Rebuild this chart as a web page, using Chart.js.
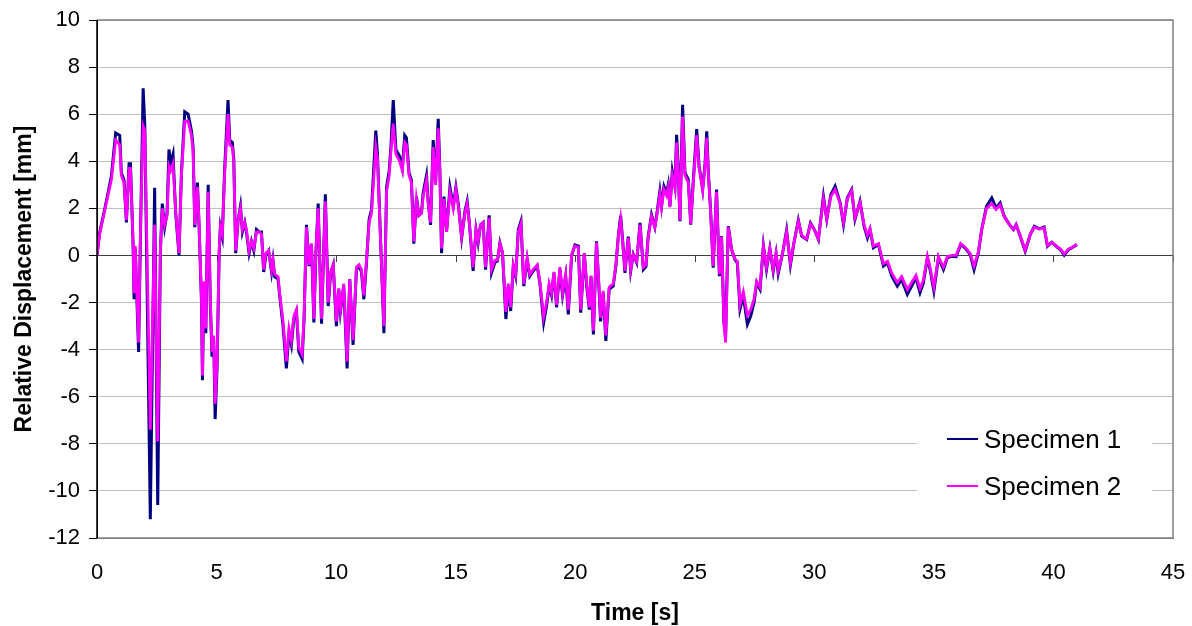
<!DOCTYPE html>
<html>
<head>
<meta charset="utf-8">
<script src="https://cdn.jsdelivr.net/npm/chart.js@4"></script>
<style>
  body { margin: 0; background: #fff; }
  canvas { display: block; }
</style>
</head>
<body>
<canvas id="disp-chart" width="1192" height="626"></canvas>
<script>
// time axis [s]
const timeS = [
  0, 0.11, 0.32, 0.6, 0.78, 0.95, 1.02, 1.13, 1.23, 1.34, 1.4, 1.51, 1.55, 1.6, 1.74, 1.82, 1.93, 2.0, 2.23, 2.41,
  2.54, 2.65, 2.73, 2.83, 2.93, 3.01, 3.08, 3.18, 3.29, 3.43, 3.53, 3.67, 3.81, 3.95, 4.02, 4.09, 4.2, 4.26, 4.37, 4.41,
  4.47, 4.55, 4.65, 4.74, 4.81, 4.88, 4.94, 5.02, 5.11, 5.16, 5.24, 5.34, 5.48, 5.55, 5.66, 5.72, 5.8, 5.9, 6.0, 6.08,
  6.18, 6.25, 6.36, 6.46, 6.56, 6.67, 6.78, 6.88, 6.97, 7.06, 7.18, 7.3, 7.36, 7.43, 7.57, 7.64, 7.78, 7.92, 8.03, 8.13,
  8.23, 8.34, 8.44, 8.58, 8.66, 8.76, 8.87, 8.97, 9.07, 9.15, 9.25, 9.39, 9.55, 9.67, 9.77, 9.88, 10.01, 10.11, 10.18, 10.32,
  10.46, 10.57, 10.71, 10.85, 10.96, 11.06, 11.16, 11.27, 11.38, 11.48, 11.66, 11.73, 11.83, 12.0, 12.11, 12.22, 12.29, 12.39, 12.5, 12.66,
  12.77, 12.87, 12.94, 13.05, 13.15, 13.25, 13.36, 13.46, 13.57, 13.64, 13.78, 13.85, 13.95, 14.06, 14.16, 14.27, 14.34, 14.41, 14.51, 14.62,
  14.76, 14.9, 15.01, 15.11, 15.25, 15.39, 15.48, 15.57, 15.73, 15.85, 15.94, 16.04, 16.15, 16.25, 16.4, 16.5, 16.64, 16.75, 16.85, 16.96,
  17.1, 17.2, 17.3, 17.41, 17.51, 17.62, 17.73, 17.85, 17.99, 18.1, 18.24, 18.41, 18.52, 18.68, 18.8, 18.91, 19.01, 19.11, 19.22, 19.36,
  19.47, 19.6, 19.71, 19.85, 19.99, 20.13, 20.23, 20.38, 20.48, 20.59, 20.66, 20.76, 20.89, 21.01, 21.06, 21.17, 21.28, 21.42, 21.59, 21.7,
  21.8, 21.9, 21.98, 22.08, 22.22, 22.32, 22.43, 22.57, 22.71, 22.85, 22.96, 23.05, 23.19, 23.33, 23.4, 23.54, 23.61, 23.71, 23.82, 23.89,
  23.96, 24.06, 24.17, 24.24, 24.31, 24.38, 24.49, 24.59, 24.73, 24.83, 24.94, 25.08, 25.18, 25.25, 25.33, 25.43, 25.5, 25.57, 25.66, 25.77,
  25.91, 26.03, 26.12, 26.22, 26.29, 26.4, 26.54, 26.68, 26.78, 26.89, 27.03, 27.2, 27.34, 27.48, 27.59, 27.73, 27.87, 28.0, 28.14, 28.28,
  28.4, 28.49, 28.67, 28.84, 29.0, 29.14, 29.33, 29.47, 29.68, 29.84, 30.0, 30.17, 30.38, 30.52, 30.69, 30.87, 31.08, 31.22, 31.38, 31.56,
  31.7, 31.91, 32.08, 32.22, 32.33, 32.47, 32.68, 32.89, 33.06, 33.24, 33.47, 33.65, 33.89, 34.07, 34.25, 34.42, 34.56, 34.73, 34.84, 35.0,
  35.19, 35.4, 35.56, 35.75, 35.93, 36.12, 36.3, 36.52, 36.68, 36.86, 37.0, 37.2, 37.42, 37.6, 37.77, 37.94, 38.16, 38.33, 38.44, 38.61,
  38.82, 39.03, 39.2, 39.41, 39.61, 39.75, 39.93, 40.14, 40.31, 40.45, 40.63, 40.81, 40.98
];

// Specimen 1 relative displacement [mm]
const specimen1 = [
  0, 0.96, 1.95, 3.36, 5.2, 5.1, 3.5, 3.2, 1.4, 3.9, 3.9, 0.4, -1.86, 0.3, -4.1, 1.0, 7.1, 5.5, -11.2, 2.87,
  -10.6, 0.1, 2.2, 1.2, 1.8, 4.5, 3.9, 4.3, 1.8, 0, 3.5, 6.1, 6.0, 5.3, 4.6, 1.2, 3.1, 1.5, -2.0, -5.3,
  -1.2, -3.3, 3.0, -2.1, -4.3, -3.6, -6.95, -4.8, 0.1, 1.2, 0.8, 3.7, 6.6, 4.9, 4.8, 4.1, 0.1, 1.5, 2.1, 1.0,
  1.4, 1.0, 0.1, 0.6, 0.2, 1.1, 1.0, 1.0, -0.7, 0, 0.2, -0.7, -0.2, -0.9, -1.0, -1.7, -3.0, -4.8, -3.3, -3.8,
  -2.7, -2.4, -4.1, -4.4, -2.7, 1.3, -0.45, 0.5, -2.85, 0, 2.2, -2.9, 2.6, -2.15, -0.75, -0.4, -3.0, -1.44, -2.4, -1.3,
  -4.8, -1.0, -3.8, -0.6, -0.45, -0.7, -1.86, -0.3, 1.53, 1.95, 5.3, 4.3, 1.5, -3.3, 2.9, 3.6, 4.6, 6.6, 4.5, 4.2,
  3.7, 5.1, 5.0, 3.5, 3.2, 0.5, 2.5, 1.7, 1.8, 2.65, 3.4, 2.3, 1.3, 4.9, 3.1, 5.8, 3.6, 0.1, 2.5, 1.0,
  2.9, 2.1, 2.9, 2.2, 0.75, 1.9, 2.3, 1.4, -0.66, 1.1, 0.53, 1.3, 1.4, -0.6, 1.7, -0.74, -0.3, -0.24, 0.53, 0.1,
  -2.7, -1.3, -2.36, -0.45, -0.88, 1.1, 1.45, -1.3, -0.17, -0.88, -0.66, -0.45, -1.16, -2.85, -2.15, -1.3, -1.7, -0.74, -2.2, -0.6,
  -1.7, -0.88, -2.5, 0, 0.45, 0.4, -2.43, 0.1, -1.3, -2.3, -0.9, -3.35, 0.6, -1.72, -2.8, -1.58, -3.63, -1.44, -1.3, -0.45,
  0.8, 1.69, 0.68, -0.74, 0.8, -0.66, 0.05, -0.3, 1.38, -0.6, -0.47, 0.8, 1.73, 1.2, 1.67, 2.73, 2.09, 2.94, 2.66, 3.01,
  2.09, 3.57, 2.94, 5.12, 3.64, 1.45, 6.4, 3.5, 3.22, 1.31, 3.22, 5.37, 3.78, 3.36, 2.82, 3.92, 5.27, 3.5, 1.95, -0.52,
  2.8, -0.88, 0.82, -2.85, -3.4, 1.24, 0.25, -0.17, -0.31, -2.29, -1.72, -2.92, -2.57, -2.0, -1.16, -1.44, 0.4, -0.6, 0.3, -0.68,
  0.08, -0.77, 0.08, 1.07, -0.4, 0.5, 1.5, 0.82, 0.68, 1.38, 1.1, 0.68, 2.51, 1.53, 2.58, 2.94, 2.23, 1.31, 2.44, 2.8,
  1.53, 2.3, 1.23, 0.75, 1.1, 0.33, 0.47, -0.45, -0.31, -0.88, -1.3, -1.02, -1.65, -1.3, -0.95, -1.58, -1.16, -0.1, -0.6, -1.51,
  -0.1, -0.6, -0.1, -0.03, -0.05, 0.46, 0.32, 0.04, -0.6, 0.11, 1.1, 2.09, 2.44, 2.02, 2.23, 1.67, 1.31, 1.1, 1.31, 0.82,
  0.18, 0.89, 1.24, 1.13, 1.21, 0.39, 0.56, 0.37, 0.23, 0.01, 0.25, 0.35, 0.46
];

// Specimen 2 relative displacement [mm]
const specimen2 = [
  0, 0.9, 1.9, 3.2, 4.9, 4.7, 3.4, 3.1, 1.5, 3.7, 3.7, 0.5, -1.6, 0.4, -3.7, 1.2, 5.5, 5.3, -7.4, 1.3,
  -7.9, 0.2, 2.0, 1.3, 1.7, 3.8, 3.6, 3.9, 1.9, 0.1, 3.4, 5.7, 5.7, 5.1, 4.4, 1.3, 2.9, 1.6, -1.8, -5.1,
  -1.1, -3.1, 2.7, -1.9, -4.1, -3.4, -6.3, -4.6, 0.2, 1.2, 0.9, 3.5, 6.0, 4.7, 4.6, 4.0, 0.2, 1.5, 2.0, 1.1,
  1.4, 1.1, 0.2, 0.6, 0.3, 1.0, 1.0, 0.9, -0.6, 0.1, 0.2, -0.6, -0.2, -0.8, -0.9, -1.6, -2.8, -4.5, -3.1, -3.6,
  -2.6, -2.3, -3.9, -4.2, -2.6, 1.2, -0.4, 0.5, -2.7, 0.1, 2.0, -2.7, 2.3, -2.0, -0.7, -0.4, -2.8, -1.4, -2.3, -1.2,
  -4.5, -1.0, -3.6, -0.5, -0.4, -0.6, -1.7, -0.2, 1.4, 1.8, 4.6, 4.1, 1.4, -3.0, 2.7, 3.4, 4.4, 5.6, 4.3, 4.0,
  3.6, 4.8, 4.7, 3.4, 3.1, 0.6, 2.4, 1.7, 1.8, 2.5, 3.2, 2.2, 1.4, 4.6, 3.0, 5.4, 3.5, 0.3, 2.4, 1.0,
  2.7, 2.0, 2.8, 2.1, 0.8, 1.8, 2.2, 1.4, -0.5, 1.1, 0.6, 1.3, 1.4, -0.5, 1.6, -0.6, -0.2, -0.2, 0.5, 0.1,
  -2.4, -1.2, -2.2, -0.4, -0.8, 1.0, 1.35, -1.2, -0.1, -0.8, -0.6, -0.4, -1.1, -2.6, -2.0, -1.2, -1.6, -0.7, -2.1, -0.5,
  -1.6, -0.8, -2.3, 0.05, 0.4, 0.35, -2.3, 0.1, -1.2, -2.2, -0.85, -3.2, 0.55, -1.6, -2.65, -1.5, -3.4, -1.35, -1.2, -0.4,
  0.75, 1.55, 0.65, -0.65, 0.75, -0.6, 0.05, -0.25, 1.3, -0.5, -0.4, 0.75, 1.65, 1.2, 1.6, 2.6, 2.05, 2.8, 2.55, 2.9,
  2.05, 3.4, 2.85, 4.8, 3.5, 1.5, 5.9, 3.4, 3.1, 1.35, 3.1, 5.1, 3.7, 3.3, 2.75, 3.8, 5.0, 3.4, 1.9, -0.45,
  2.7, -0.8, 0.8, -2.9, -3.7, 1.2, 0.25, -0.15, -0.25, -2.1, -1.55, -2.55, -2.3, -1.85, -1.1, -1.35, 0.4, -0.5, 0.3, -0.6,
  0.1, -0.65, 0.1, 1.0, -0.3, 0.5, 1.45, 0.85, 0.7, 1.35, 1.1, 0.7, 2.4, 1.55, 2.5, 2.8, 2.2, 1.4, 2.4, 2.75,
  1.6, 2.25, 1.3, 0.85, 1.15, 0.4, 0.5, -0.35, -0.25, -0.75, -1.15, -0.9, -1.45, -1.15, -0.85, -1.4, -1.05, -0.05, -0.5, -1.35,
  -0.05, -0.5, -0.05, 0.0, 0.0, 0.5, 0.35, 0.08, -0.45, 0.15, 1.1, 2.0, 2.2, 1.95, 2.15, 1.65, 1.3, 1.1, 1.3, 0.85,
  0.22, 0.9, 1.2, 1.12, 1.18, 0.42, 0.56, 0.38, 0.26, 0.06, 0.27, 0.36, 0.47
];

const seriesNames = ['Specimen 1', 'Specimen 2'];
const seriesColors = ['#000080', '#ff00ff'];
const xTicks = [0, 5, 10, 15, 20, 25, 30, 35, 40, 45];

const FONT = '"Liberation Sans", Arial, sans-serif';

function toPoints(values) {
  return timeS.map((t, i) => ({ x: t, y: values[i] }));
}

// frame, zero-line ticks and inner legend (Excel style)
const excelDecor = {
  id: 'excelDecor',
  beforeDatasetsDraw(chart) {
    const { ctx, chartArea: a, scales: { x, y } } = chart;
    const y0 = Math.round(y.getPixelForValue(0));
    ctx.save();
    ctx.strokeStyle = '#404040';
    ctx.lineWidth = 1;
    ctx.beginPath();
    ctx.moveTo(a.left, y0 + 0.5);
    ctx.lineTo(a.right, y0 + 0.5);
    xTicks.forEach(v => {
      const px = Math.round(x.getPixelForValue(v)) + 0.5;
      ctx.moveTo(px, y0);
      ctx.lineTo(px, y0 + 7);
    });
    ctx.stroke();
    ctx.restore();
  },
  afterDatasetsDraw(chart) {
    const { ctx, chartArea: a } = chart;
    ctx.save();
    // gray frame top / right / bottom
    ctx.strokeStyle = '#808080';
    ctx.lineWidth = 1.5;
    ctx.beginPath();
    ctx.moveTo(a.left, a.top);
    ctx.lineTo(a.right, a.top);
    ctx.lineTo(a.right, a.bottom);
    ctx.lineTo(a.left, a.bottom);
    ctx.stroke();
    // left axis
    ctx.strokeStyle = '#000';
    ctx.lineWidth = 1.5;
    ctx.beginPath();
    ctx.moveTo(a.left, a.top);
    ctx.lineTo(a.left, a.bottom);
    ctx.stroke();

    // legend box
    ctx.fillStyle = '#fff';
    ctx.fillRect(917, 414, 235, 98);
    ctx.font = '26px ' + FONT;
    ctx.textBaseline = 'alphabetic';
    ctx.textAlign = 'left';
    chart.data.datasets.forEach((ds, i) => {
      const ly = 439 + i * 47;
      ctx.strokeStyle = ds.borderColor;
      ctx.lineWidth = 2;
      ctx.beginPath();
      ctx.moveTo(947, ly);
      ctx.lineTo(978, ly);
      ctx.stroke();
      ctx.fillStyle = '#000';
      ctx.fillText(ds.label, 984, ly + 9);
    });
    ctx.restore();
  }
};

new Chart(document.querySelector('#disp-chart').getContext('2d'), {
  type: 'line',
  data: {
    datasets: [
      {
        label: seriesNames[0],
        data: toPoints(specimen1),
        borderColor: seriesColors[0],
        backgroundColor: seriesColors[0],
        borderWidth: 3,
        pointRadius: 0,
        tension: 0,
        order: 2
      },
      {
        label: seriesNames[1],
        data: toPoints(specimen2),
        borderColor: seriesColors[1],
        backgroundColor: seriesColors[1],
        borderWidth: 2.8,
        pointRadius: 0,
        tension: 0,
        order: 1
      }
    ]
  },
  options: {
    responsive: false,
    animation: false,
    layout: { padding: { top: 20, right: 19, left: 0, bottom: 0 } },
    plugins: {
      legend: { display: false },
      tooltip: { enabled: false }
    },
    scales: {
      x: {
        type: 'linear',
        min: 0,
        max: 45,
        afterFit(scale) {
          scale.height = 88;
          scale.paddingLeft = 0;
          scale.paddingRight = 0;
        },
        afterBuildTicks(scale) { scale.ticks = xTicks.map(v => ({ value: v })); },
        grid: { drawOnChartArea: false, drawTicks: false },
        border: { color: '#808080', width: 1 },
        ticks: {
          padding: 22,
          color: '#000',
          maxRotation: 0,
          font: { family: FONT, size: 22 }
        },
        title: {
          display: true,
          text: 'Time [s]',
          color: '#000',
          font: { family: FONT, size: 23, weight: 'bold', lineHeight: 1 },
          padding: { top: 0, bottom: 1 }
        }
      },
      y: {
        min: -12,
        max: 10,
        afterFit(scale) {
          scale.width = 97;
          scale.paddingTop = 0;
          scale.paddingBottom = 0;
        },
        grid: {
          color: ctx => ctx.tick && ctx.tick.value === 0 ? '#404040' : '#c0c0c0',
          tickColor: '#000',
          tickLength: 8,
          lineWidth: 1
        },
        border: { color: '#000', width: 1 },
        ticks: {
          stepSize: 2,
          padding: 9,
          color: '#000',
          font: { family: FONT, size: 22 }
        },
        title: {
          display: true,
          text: 'Relative Displacement [mm]',
          color: '#000',
          font: { family: FONT, size: 23, weight: 'bold', lineHeight: 1.2 },
          padding: { top: 11, bottom: 0 }
        }
      }
    }
  },
  plugins: [excelDecor]
});
</script>
</body>
</html>
